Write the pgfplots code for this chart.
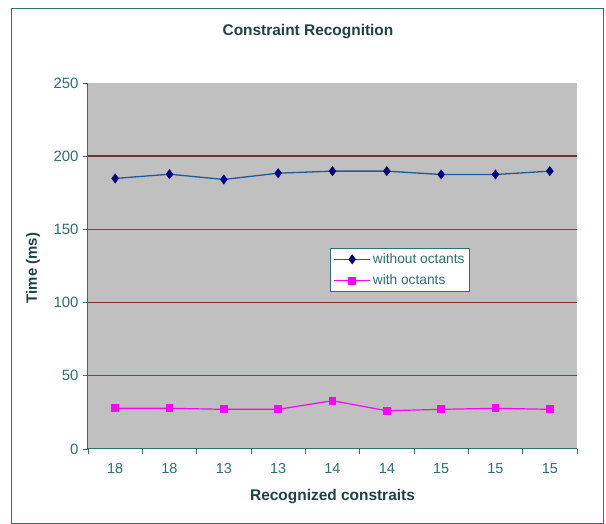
\documentclass[border=0pt]{standalone}
\usepackage{fontspec}
\setmainfont{Liberation Sans}
\usepackage{pgfplots}
\pgfplotsset{compat=1.18}
\definecolor{plotbg}{HTML}{C0C0C0}
\definecolor{gridteal}{HTML}{16705E}
\definecolor{gridbrown}{HTML}{7A2E2E}
\definecolor{axcol}{HTML}{2E7474}
\definecolor{txtdark}{HTML}{1E4242}
\definecolor{ticktxt}{HTML}{2F6E6E}
\definecolor{navyline}{HTML}{1F5A9A}
\definecolor{navymark}{HTML}{000080}
\definecolor{pinkc}{HTML}{FF00FF}
\begin{document}
\begin{tikzpicture}
\path[use as bounding box] (-88bp,-75bp) rectangle (518bp,449bp);
\draw[axcol, line width=1bp] (-76bp,-74bp) rectangle (515bp,440bp);
\begin{axis}[
  scale only axis,
  width=489bp, height=366bp,
  xmin=0.5, xmax=9.5, ymin=0, ymax=250,
  axis background/.style={fill=plotbg},
  axis lines*=left,
  axis line style={axcol, line width=1bp},
  xtick={1,...,9},
  xticklabels={18,18,13,13,14,14,15,15,15},
  minor xtick={0.5,1.5,...,9.5},
  major x tick style={draw=none},
  minor x tick style={axcol, line width=0.9bp},
  ytick={0,50,...,250},
  major y tick style={axcol, line width=0.9bp},
  tick align=outside,
  major tick length=5bp,
  minor tick length=5bp,
  /pgf/number format/assume math mode=true,
  yticklabel style={font=\fontsize{15}{17}\selectfont, text=ticktxt, xshift=-1bp},
  xticklabel style={font=\fontsize{14.5}{17}\selectfont, text=ticktxt, yshift=-6bp},
  legend style={at={(0.495,0.549)}, anchor=north west, fill=white, draw=axcol,
    line width=1bp, font=\fontsize{13.8}{16}\selectfont, text=ticktxt,
    inner xsep=3bp, inner ysep=3bp, row sep=6bp},
  legend cell align=left,
  legend image code/.code={
    \draw[#1] (0bp,0bp) -- (36bp,0bp);
    \draw[#1, only marks] plot coordinates {(18bp,0bp)};
  },
]
\draw[gridteal, line width=1.4bp] (axis cs:0.5,50) -- (axis cs:9.5,50);
\draw[gridteal, line width=1.4bp] (axis cs:0.5,150) -- (axis cs:9.5,150);
\draw[gridbrown, line width=1.4bp] (axis cs:0.5,100) -- (axis cs:9.5,100);
\draw[gridbrown, line width=1.4bp] (axis cs:0.5,200) -- (axis cs:9.5,200);
\addplot[navyline, line width=1.3bp, mark=diamond*, mark size=4bp,
  mark options={fill=navymark, draw=navymark, solid}]
  coordinates {(1,184.8) (2,187.7) (3,184.1) (4,188.4) (5,189.8) (6,189.8) (7,187.5) (8,187.5) (9,189.8)};
\addlegendentry{without octants}
\addplot[pinkc, line width=1.2bp, mark=square*, mark size=3.3bp,
  mark options={fill=pinkc, draw=pinkc, solid}]
  coordinates {(1,27.8) (2,27.8) (3,27.1) (4,27.1) (5,33) (6,26.1) (7,27.1) (8,27.8) (9,27.1)};
\addlegendentry{with octants}
\end{axis}
\node[text=txtdark, font=\bfseries\fontsize{15.5}{18}\selectfont] at (220bp,417bp) {Constraint Recognition};
\node[text=txtdark, font=\bfseries\fontsize{15.5}{18}\selectfont] at (244.5bp,-48bp) {Recognized constraits};
\node[text=txtdark, font=\bfseries\fontsize{15}{18}\selectfont, rotate=90] at (-55bp,181bp) {Time (ms)};
\end{tikzpicture}
\end{document}
